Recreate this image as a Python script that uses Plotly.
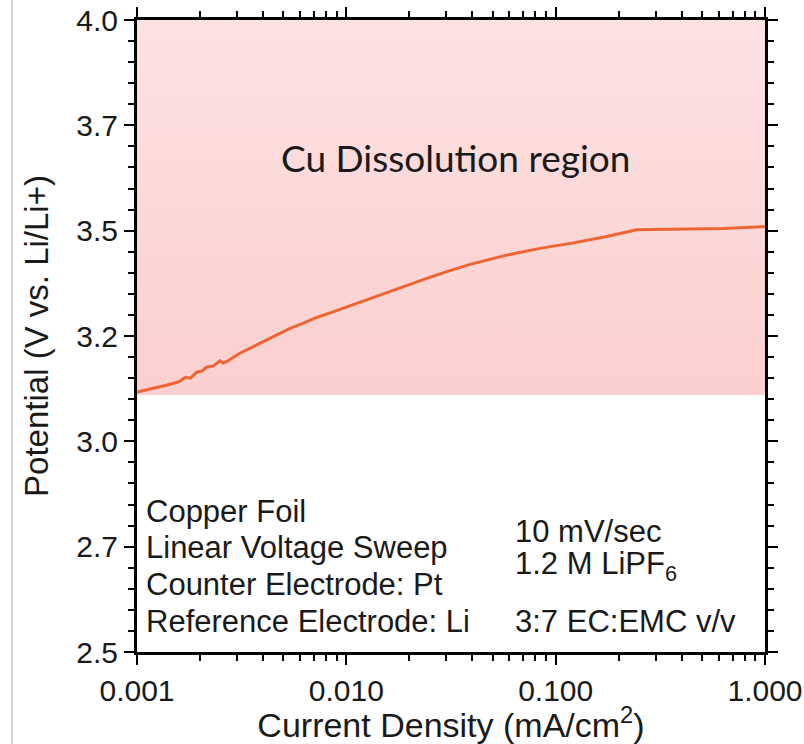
import plotly.graph_objects as go

# ---- data ----
current_density = [0.00100, 0.00112, 0.00124, 0.00138, 0.00150, 0.00160, 0.00170, 0.00180,
                   0.00193, 0.00205, 0.00215, 0.00232, 0.00249, 0.00258, 0.00268, 0.00285,
                   0.00310, 0.00350, 0.00401, 0.00460, 0.00538, 0.00620, 0.00722, 0.00850,
                   0.01005, 0.01200, 0.01449, 0.01800, 0.02170, 0.02600, 0.03130, 0.03900,
                   0.05840, 0.08420, 0.12160, 0.17540, 0.24370, 0.36500, 0.63200,
                   0.96600, 1.00000]
potential = [3.117, 3.122, 3.128, 3.133, 3.138, 3.142, 3.152, 3.150,
             3.164, 3.167, 3.176, 3.179, 3.191, 3.186, 3.189, 3.197,
             3.209, 3.222, 3.236, 3.251, 3.268, 3.280, 3.294, 3.306,
             3.319, 3.333, 3.347, 3.364, 3.379, 3.392, 3.405, 3.420,
             3.442, 3.458, 3.471, 3.486, 3.502, 3.503, 3.505,
             3.509, 3.510]

region_x = [0.001, 1.0, 1.0, 0.001]
region_y = [3.11, 3.11, 4.0, 4.0]

y_tickvals = [2.5, 2.75, 3.0, 3.25, 3.5, 3.75, 4.0]
y_ticktext = ["2.5", "2.7", "3.0", "3.2", "3.5", "3.7", "4.0"]
x_tickvals = [0.001, 0.01, 0.1, 1.0]
x_ticktext = ["0.001", "0.010", "0.100", "1.000"]
x_minor = [m * d for d in (0.001, 0.01, 0.1) for m in range(2, 10)]

left_notes = ["Copper Foil", "Linear Voltage Sweep", "Counter Electrode: Pt", "Reference Electrode: Li"]
right_notes = ["10 mV/sec", "1.2 M LiPF<sub>6</sub>", "3:7 EC:EMC v/v"]

# ---- layout geometry (pixels) ----
W, H = 804, 744
L, R, T, B = 137, 765, 20, 652

def px(xp):
    return (xp - L) / (R - L)

def py(yp):
    return (B - yp) / (B - T)

FONT = "Liberation Sans, Arial, sans-serif"

fig = go.Figure()
fig.add_trace(go.Scatter(
    x=region_x, y=region_y, fill="toself", mode="lines",
    line=dict(width=0),
    fillgradient=dict(type="vertical",
                      colorscale=[[0, "#fbcfcf"], [1, "#fde2e2"]]),
    hoverinfo="skip", showlegend=False))
fig.add_trace(go.Scatter(
    x=current_density, y=potential, mode="lines",
    line=dict(color="#f06432", width=3), showlegend=False))

annotations = []
annotations.append(dict(text="Cu Dissolution region", x=px(455), y=py(157),
                        xref="paper", yref="paper", showarrow=False,
                        xanchor="center", yanchor="middle",
                        font=dict(family="Lato, Open Sans, sans-serif", size=37, color="#1a1a1a")))
for i, t in enumerate(left_notes):
    annotations.append(dict(text=t, x=px(144), y=py(511 + 36.7 * i),
                            xref="paper", yref="paper", showarrow=False,
                            xanchor="left", yanchor="middle",
                            font=dict(family=FONT, size=31, color="#1a1a1a")))
right_y = [531, 566, 621]
for t, yy in zip(right_notes, right_y):
    annotations.append(dict(text=t, x=px(513), y=py(yy),
                            xref="paper", yref="paper", showarrow=False,
                            xanchor="left", yanchor="middle",
                            font=dict(family=FONT, size=31, color="#1a1a1a")))

fig.update_layout(
    width=W, height=H,
    margin=dict(l=L, r=W - R, t=T, b=H - B, pad=0),
    paper_bgcolor="white", plot_bgcolor="white",
    font=dict(family=FONT, color="#1a1a1a"),
    annotations=annotations,
    shapes=[dict(type="line", xref="paper", yref="paper",
                 x0=px(12), x1=px(12), y0=py(0), y1=py(744),
                 line=dict(color="#d4d4d4", width=2))],
    xaxis=dict(type="log", range=[-3, 0], showgrid=False, zeroline=False,
               automargin=False,
               showline=True, linecolor="black", linewidth=3, mirror="allticks",
               ticks="outside", ticklen=10, tickwidth=2, tickcolor="black",
               tickvals=x_tickvals, ticktext=x_ticktext,
               tickfont=dict(size=30, family=FONT, color="#1a1a1a"),
               minor=dict(tickvals=x_minor, ticks="outside", ticklen=6,
                          tickwidth=2, tickcolor="black", showgrid=False),
               title=dict(text="Current Density (mA/cm<sup>2</sup>)", standoff=0,
                          font=dict(size=34, family=FONT, color="#1a1a1a"))),
    yaxis=dict(range=[2.5, 4.0], showgrid=False, zeroline=False,
               automargin=False,
               showline=True, linecolor="black", linewidth=3, mirror="allticks",
               ticks="outside", ticklen=10, tickwidth=2, tickcolor="black",
               tickvals=y_tickvals, ticktext=y_ticktext,
               tickfont=dict(size=30, family=FONT, color="#1a1a1a"),
               minor=dict(dtick=0.05, ticks="outside", ticklen=6,
                          tickwidth=2, tickcolor="black", showgrid=False),
               title=dict(text="Potential (V vs. Li/Li+)", standoff=18,
                          font=dict(size=33, family=FONT, color="#1a1a1a"))),
)

fig.write_html("out.html")
